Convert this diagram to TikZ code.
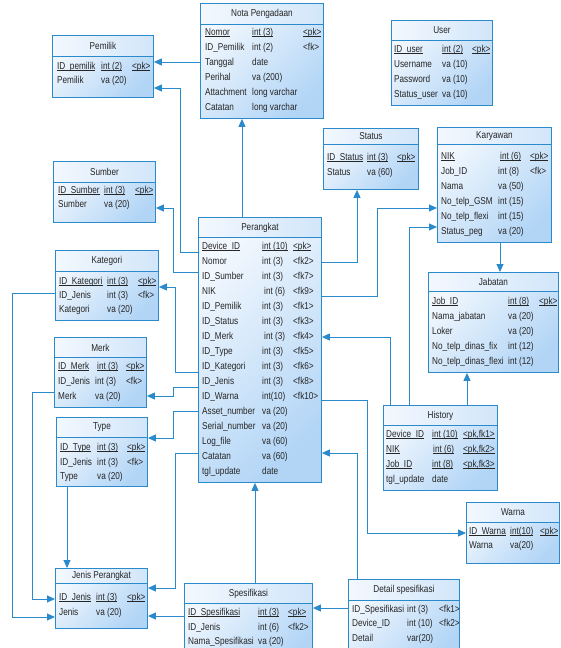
\documentclass[tikz,border=0pt]{standalone}
\usepackage{fontspec}
\setmainfont[FakeStretch=0.82]{Liberation Sans}
\usetikzlibrary{arrows.meta}

\definecolor{erline}{HTML}{2A8ACB}
\definecolor{erlight}{HTML}{F3F8FE}
\definecolor{erdark}{HTML}{B2D5F6}
\definecolor{erhead}{HTML}{D2E6FA}
\definecolor{ertext}{HTML}{262626}

\tikzset{
  tabbody/.style={rectangle, draw=erline, line width=0.9pt, inner sep=0pt,
    top color=erlight, bottom color=erdark, shading angle=45},
  tabhead/.style={rectangle, draw=erline, line width=0.9pt, inner sep=0pt,
    left color=erlight, right color=erhead, text=ertext,
    font=\fontsize{10}{12}\selectfont},
  cell/.style={anchor=west, inner sep=0pt, text height=7pt, text depth=2pt,
    text=ertext, font=\fontsize{10}{12}\selectfont},
  fk/.style={draw=erline, line width=0.9pt, -{Triangle[length=8pt,width=7pt]}},
}

% table frame: name, x, y, width, height, title height, title
\newcommand\ertab[7]{%
  \node[tabbody, anchor=north west, minimum width=#4pt, minimum height=#5pt] (#1) at (#2,#3) {};
  \node[tabhead, anchor=north west, minimum width=#4pt, minimum height=#6pt] (#1-t) at (#2,#3) {#7};
}
% one attribute row: prefix, index, y, x1, name, x2, type, x3, key
\newcommand\errow[9]{%
  \node[cell] (#1-#2a) at (#4,#3) {#5};
  \node[cell] (#1-#2b) at (#6,#3) {#7};
  \node[cell] (#1-#2c) at (#8,#3) {#9};
}
% underlined key text with a clearly visible rule
\newcommand\ul[1]{\setbox0\hbox{#1}\rlap{\rule[-1.7pt]{\wd0}{0.75pt}}\box0}

\begin{document}
\begin{tikzpicture}[x=1pt,y=-1pt]
\useasboundingbox (0,0) rectangle (560,648);
\clip (0,0) rectangle (560,648);

% ---------- tables ----------
\ertab{nota}{200}{3}{123}{115}{21}{Nota Pengadaan}
\errow{nota}{1}{33}{205}{\ul{Nomor}}{252}{\ul{int (3)}}{303}{\ul{<pk>}}
\errow{nota}{2}{48}{205}{ID\_Pemilik}{252}{int (2)}{303}{<fk>}
\errow{nota}{3}{63}{205}{Tanggal}{252}{date}{303}{}
\errow{nota}{4}{78}{205}{Perihal}{252}{va (200)}{303}{}
\errow{nota}{5}{93}{205}{Attachment}{252}{long varchar}{303}{}
\errow{nota}{6}{108}{205}{Catatan}{252}{long varchar}{303}{}

\ertab{pemilik}{52}{35}{101}{62}{21}{Pemilik}
\errow{pem}{1}{67}{57}{\ul{ID\_pemilik}}{101}{\ul{int (2)}}{132}{\ul{<pk>}}
\errow{pem}{2}{81}{57}{Pemilik}{101}{va (20)}{132}{}

\ertab{user}{391}{20}{101}{85}{20}{User}
\errow{usr}{1}{50}{394}{\ul{ID\_user}}{442}{\ul{int (2)}}{472}{\ul{<pk>}}
\errow{usr}{2}{65}{394}{Username}{442}{va (10)}{472}{}
\errow{usr}{3}{80}{394}{Password}{442}{va (10)}{472}{}
\errow{usr}{4}{95}{394}{Status\_user}{442}{va (10)}{472}{}

\ertab{status}{323}{128}{95}{61}{16}{Status}
\errow{sta}{1}{158}{327}{\ul{ID\_Status}}{367}{\ul{int (3)}}{397}{\ul{<pk>}}
\errow{sta}{2}{173}{327}{Status}{367}{va (60)}{397}{}

\ertab{karyawan}{437}{127}{114}{115}{17}{Karyawan}
\errow{kar}{1}{157}{441}{\ul{NIK}}{500}{\ul{int (6)}}{530}{\ul{<pk>}}
\errow{kar}{2}{172}{441}{Job\_ID}{498}{int (8)}{530}{<fk>}
\errow{kar}{3}{187}{441}{Nama}{498}{va (50)}{530}{}
\errow{kar}{4}{202}{441}{No\_telp\_GSM}{498}{int (15)}{530}{}
\errow{kar}{5}{217}{441}{No\_telp\_flexi}{498}{int (15)}{530}{}
\errow{kar}{6}{232}{441}{Status\_peg}{498}{va (20)}{530}{}

\ertab{sumber}{53}{161}{102}{61}{21}{Sumber}
\errow{sum}{1}{191}{58}{\ul{ID\_Sumber}}{104}{\ul{int (3)}}{135}{\ul{<pk>}}
\errow{sum}{2}{205}{58}{Sumber}{104}{va (20)}{135}{}

\ertab{kategori}{55}{250}{103}{70}{21}{Kategori}
\errow{kat}{1}{282}{59}{\ul{ID\_Kategori}}{107}{\ul{int (3)}}{138}{\ul{<pk>}}
\errow{kat}{2}{296}{59}{ID\_Jenis}{107}{int (3)}{138}{<fk>}
\errow{kat}{3}{310}{59}{Kategori}{107}{va (20)}{138}{}

\ertab{perangkat}{198}{217}{123}{265}{20}{Perangkat}
\errow{per}{1}{247}{202}{\ul{Device\_ID}}{262}{\ul{int (10)}}{293}{\ul{<pk>}}
\errow{per}{2}{262}{202}{Nomor}{262}{int (3)}{293}{<fk2>}
\errow{per}{3}{277}{202}{ID\_Sumber}{262}{int (3)}{293}{<fk7>}
\errow{per}{4}{292}{202}{NIK}{264}{int (6)}{293}{<fk9>}
\errow{per}{5}{307}{202}{ID\_Pemilik}{262}{int (3)}{293}{<fk1>}
\errow{per}{6}{322}{202}{ID\_Status}{262}{int (3)}{293}{<fk3>}
\errow{per}{7}{337}{202}{ID\_Merk}{264}{int (3)}{293}{<fk4>}
\errow{per}{8}{352}{202}{ID\_Type}{262}{int (3)}{293}{<fk5>}
\errow{per}{9}{367}{202}{ID\_Kategori}{262}{int (3)}{293}{<fk6>}
\errow{per}{10}{382}{202}{ID\_Jenis}{262}{int (3)}{293}{<fk8>}
\errow{per}{11}{397}{202}{ID\_Warna}{262}{int(10)}{293}{<fk10>}
\errow{per}{12}{412}{202}{Asset\_number}{262}{va (20)}{293}{}
\errow{per}{13}{427}{202}{Serial\_number}{262}{va (20)}{293}{}
\errow{per}{14}{442}{202}{Log\_file}{262}{va (60)}{293}{}
\errow{per}{15}{457}{202}{Catatan}{262}{va (60)}{293}{}
\errow{per}{16}{472}{202}{tgl\_update}{262}{date}{293}{}

\ertab{merk}{54}{337}{92}{70}{20}{Merk}
\errow{mrk}{1}{367}{58}{\ul{ID\_Merk}}{97}{\ul{int (3)}}{126}{\ul{<pk>}}
\errow{mrk}{2}{382}{58}{ID\_Jenis}{95}{int (3)}{126}{<fk>}
\errow{mrk}{3}{397}{58}{Merk}{95}{va (20)}{126}{}

\ertab{type}{56}{417}{91}{69}{20}{Type}
\errow{typ}{1}{448}{60}{\ul{ID\_Type}}{97}{\ul{int (3)}}{127}{\ul{<pk>}}
\errow{typ}{2}{463}{60}{ID\_Jenis}{97}{int (3)}{127}{<fk>}
\errow{typ}{3}{477}{60}{Type}{97}{va (20)}{127}{}

\ertab{jenis}{55}{568}{92}{60}{15}{Jenis Perangkat}
\errow{jen}{1}{598}{59}{\ul{ID\_Jenis}}{96}{\ul{int (3)}}{127}{\ul{<pk>}}
\errow{jen}{2}{613}{59}{Jenis}{96}{va (20)}{127}{}

\ertab{jabatan}{428}{272}{130}{100}{19}{Jabatan}
\errow{jab}{1}{302}{432}{\ul{Job\_ID}}{508}{\ul{int (8)}}{539}{\ul{<pk>}}
\errow{jab}{2}{317}{432}{Nama\_jabatan}{508}{va (20)}{539}{}
\errow{jab}{3}{332}{432}{Loker}{508}{va (20)}{539}{}
\errow{jab}{4}{347}{432}{No\_telp\_dinas\_fix}{508}{int (12)}{539}{}
\errow{jab}{5}{362}{432}{No\_telp\_dinas\_flexi}{508}{int (12)}{539}{}

\ertab{history}{383}{405}{114}{85}{20}{History}
\errow{his}{1}{435}{386}{\ul{Device\_ID}}{432}{\ul{int (10)}}{463}{\ul{<pk,fk1>}}
\errow{his}{2}{450}{386}{\ul{NIK}}{433}{\ul{int (6)}}{463}{\ul{<pk,fk2>}}
\errow{his}{3}{465}{386}{\ul{Job\_ID}}{432}{\ul{int (8)}}{463}{\ul{<pk,fk3>}}
\errow{his}{4}{480}{386}{tgl\_update}{432}{date}{463}{}

\ertab{warna}{466}{502}{93}{61}{20}{Warna}
\errow{war}{1}{532}{469}{\ul{ID\_Warna}}{510}{\ul{int(10)}}{540}{\ul{<pk>}}
\errow{war}{2}{546}{469}{Warna}{510}{va(20)}{540}{}

\ertab{spes}{184}{583}{128}{80}{20}{Spesifikasi}
\errow{spe}{1}{613}{188}{\ul{ID\_Spesifikasi}}{258}{\ul{int (3)}}{288}{\ul{<pk>}}
\errow{spe}{2}{628}{188}{ID\_Jenis}{258}{int (6)}{288}{<fk2>}
\errow{spe}{3}{642}{188}{Nama\_Spesifikasi}{258}{va (20)}{288}{}

\ertab{detail}{348}{579}{111}{80}{21}{Detail spesifikasi}
\errow{det}{1}{610}{352}{ID\_Spesifikasi}{407}{int (3)}{439}{<fk1>}
\errow{det}{2}{624}{352}{Device\_ID}{407}{int (10)}{439}{<fk2>}
\errow{det}{3}{639}{352}{Detail}{407}{var(20)}{439}{}

% ---------- references ----------
\draw[fk] (nota.west |- 0,62) -- (pemilik.east |- 0,62);
\draw[fk] (perangkat.west |- 0,252) -| (180,88) -- (pemilik.east |- 0,88);
\draw[fk] (perangkat.west |- 0,272) -| (173,208) -- (sumber.east |- 0,208);
\draw[fk] (perangkat.west |- 0,372) -| (175,287) -- (kategori.east |- 0,287);
\draw[fk] (perangkat.west |- 0,387) -| (173,396) -- (merk.east |- 0,396);
\draw[fk] (perangkat.west |- 0,411) -| (173,438) -- (type.east |- 0,438);
\draw[fk] (perangkat.west |- 0,453) -| (175,588) -- (jenis.east |- 0,588);
\draw[fk] (perangkat.north -| 242,0) -- (nota.south -| 242,0);
\draw[fk] (perangkat.east |- 0,262) -| (status.south -| 357,0);
\draw[fk] (perangkat.east |- 0,296) -| (377,208) -- (karyawan.west |- 0,208);
\draw[fk] (history.north -| 390,0) |- (perangkat.east |- 0,337);
\draw[fk] (history.north -| 409,0) |- (karyawan.west |- 0,227);
\draw[fk] (history.north -| 467,0) -- (jabatan.south -| 467,0);
\draw[fk] (karyawan.south -| 500,0) -- (jabatan.north -| 500,0);
\draw[fk] (perangkat.east |- 0,400) -| (367,533) -- (warna.west |- 0,533);
\draw[fk] (detail.north -| 357,0) |- (perangkat.east |- 0,453);
\draw[fk] (detail.west |- 0,608) -- (spes.east |- 0,608);
\draw[fk] (spes.north -| 255,0) -- (perangkat.south -| 255,0);
\draw[fk] (spes.west |- 0,616) -- (jenis.east |- 0,616);
\draw[fk] (type.south -| 67,0) -- (jenis.north -| 67,0);
\draw[fk] (merk.west |- 0,392) -| (32,599) -- (jenis.west |- 0,599);
\draw[fk] (kategori.west |- 0,293) -| (12,617) -- (jenis.west |- 0,617);
\end{tikzpicture}
\end{document}
